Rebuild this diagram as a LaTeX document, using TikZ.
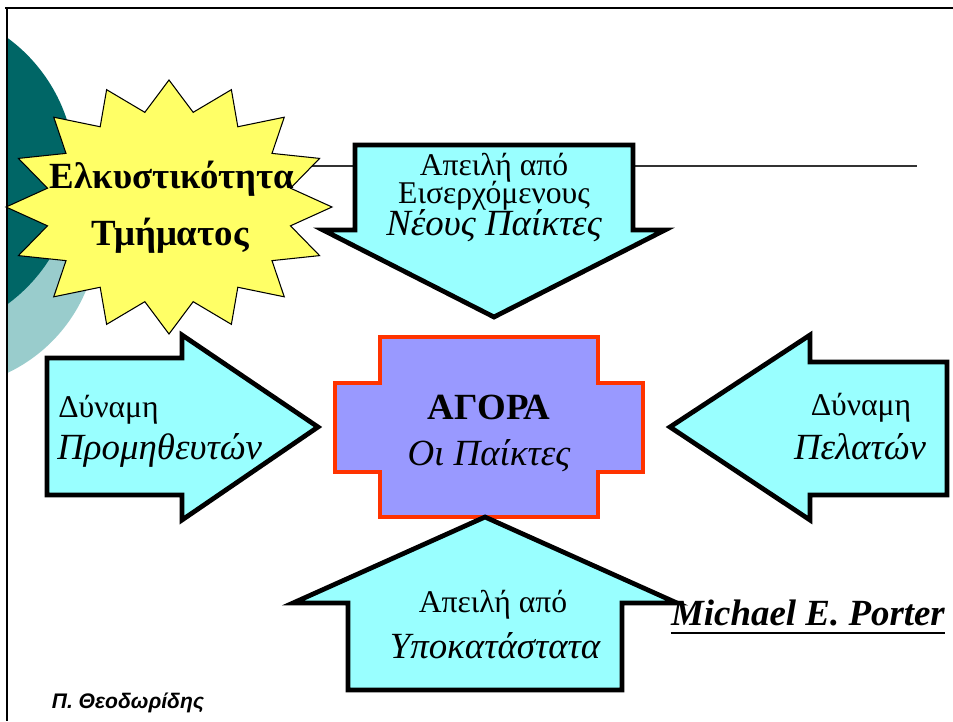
\documentclass[tikz,border=0pt]{standalone}
\usepackage{fontspec}
\setmainfont{Liberation Serif}
\newfontfamily\signfont{Liberation Sans}
\usepackage{tikz}

\definecolor{tealdark}{HTML}{006666}
\definecolor{teallight}{HTML}{99CCCC}
\definecolor{forcecyan}{HTML}{99FFFF}
\definecolor{marketblue}{HTML}{9999FF}
\definecolor{marketred}{HTML}{FF3300}
\definecolor{staryellow}{HTML}{FFFF66}

\begin{document}
\begin{tikzpicture}[x=0.02cm,y=-0.02cm]
\tikzstyle{force}=[draw=black,fill=forcecyan,line width=2.7pt,miter limit=10];
\tikzstyle{txt}=[font=\fontsize{18}{20}\selectfont,inner sep=0pt,anchor=base];
\tikzstyle{itxt}=[font=\fontsize{21}{24}\selectfont\itshape,inner sep=0pt,anchor=base];
\tikzstyle{btxt}=[font=\fontsize{21}{24}\selectfont\bfseries,inner sep=0pt,anchor=base];

\useasboundingbox (0,0) rectangle (953,721);

\begin{scope}
\clip (7,8) rectangle (953,721);
\fill[teallight] (-60,230) circle (158);
\fill[tealdark] (-90,171) circle (165);
\end{scope}
\draw[line width=1.7pt] (5,8) -- (953,8);
\draw[line width=1.7pt] (7,8) -- (7,721);
\draw[black!80,line width=0.8pt] (200,166) -- (917,166);

% top arrow
\draw[force] (355,145) -- (633,145) -- (633,230) -- (665,230) -- (494,317)
  -- (323,230) -- (355,230) -- cycle;
\node[txt] (newa) at (494,175) {Απειλή από};
\node[txt] (newb) at (494,203) {Εισερχόμενους};
\node[itxt] (newc) at (494,235) {Νέους Παίκτες};

% star
\draw[fill=staryellow,line width=0.6pt] (332,207)
  \foreach \i [evaluate=\i as \r using {1-0.24*mod(\i,2)}] in {1,...,31}
  { -- ({169+163*\r*cos(\i*11.25)},{207+127*\r*sin(\i*11.25)}) } -- cycle;
\node[btxt] (stara) at (172,188) {Ελκυστικότητα};
\node[btxt] (starb) at (170,245) {Τμήματος};

% market
\draw[draw=marketred,fill=marketblue,line width=2.4pt] (380,337) -- (598,337)
  -- (598,383) -- (643,383) -- (643,472) -- (598,472) -- (598,517) -- (380,517)
  -- (380,472) -- (335,472) -- (335,383) -- (380,383) -- cycle;
\node[btxt] (marketa) at (489,419) {ΑΓΟΡΑ};
\node[itxt] (marketb) at (489,465) {Οι Παίκτες};

% suppliers
\draw[force] (47,358) -- (182,358) -- (182,335) -- (318,427) -- (182,520)
  -- (182,495) -- (47,495) -- cycle;
\node[txt,anchor=base west] (supa) at (58,417) {Δύναμη};
\node[itxt,anchor=base west] (supb) at (57,459) {Προμηθευτών};

% buyers
\draw[force] (947,362) -- (810,362) -- (810,335) -- (670,427) -- (810,520)
  -- (810,495) -- (947,495) -- cycle;
\node[txt] (buya) at (861,415) {Δύναμη};
\node[itxt] (buyb) at (860,459) {Πελατών};

% substitutes
\draw[force] (485,517) -- (677,603) -- (622,603) -- (622,690) -- (348,690)
  -- (348,603) -- (293,603) -- cycle;
\node[txt] (suba) at (493,612) {Απειλή από};
\node[itxt] (subb) at (495,658) {Υποκατάστατα};

\node[font=\fontsize{21}{24}\selectfont\bfseries\itshape,inner sep=0pt,anchor=base]
  (porter) at (808,625) {Michael E. Porter};
\draw[line width=1.2pt] ([yshift=-4.5pt]porter.base west) -- ([yshift=-4.5pt]porter.base east);
\node[font=\signfont\fontsize{12}{14}\selectfont\bfseries\itshape,inner sep=0pt,anchor=base]
  (author) at (128,708) {Π. Θεοδωρίδης};
\end{tikzpicture}
\end{document}
